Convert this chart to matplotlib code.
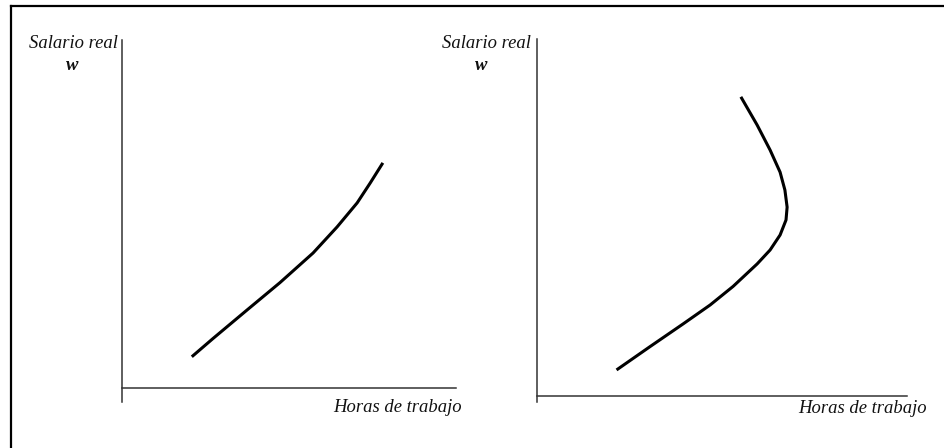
import matplotlib.pyplot as plt
from matplotlib.lines import Line2D

W, H = 945, 448

# labour supply, left panel (horas, salario)
horas_izq = [2.09, 2.72, 3.74, 4.73, 5.72, 6.44, 7.04, 7.43, 7.81]
salario_izq = [0.90, 1.42, 2.24, 3.03, 3.88, 4.63, 5.32, 5.89, 6.47]

# backward-bending labour supply, right panel
horas_der = [2.15, 3.05, 3.95, 4.68, 5.30, 5.95, 6.30, 6.57, 6.73,
             6.76, 6.70, 6.57, 6.30, 5.95, 5.51]
salario_der = [0.73, 1.38, 2.02, 2.55, 3.07, 3.70, 4.09, 4.51, 4.93,
               5.29, 5.77, 6.27, 6.89, 7.59, 8.38]

ylabel = "Salario real"
ylabel2 = "w"
xlabel = "Horas de trabajo"


def px_box(x0, y0, x1, y1):
    # pixel box (top-left origin) -> figure fraction rect
    return [x0 / W, 1 - y1 / H, (x1 - x0) / W, (y1 - y0) / H]


def fx(x):
    return x / W


def fy(y):
    return 1 - y / H


fig = plt.figure(figsize=(W / 100, H / 100), dpi=100)
font = dict(family="Liberation Serif", style="italic", size=13.4, color="#111111")


def panel(rect, xs, ys, ylo):
    ax = fig.add_axes(rect)
    ax.set_xlim(0, 10)
    ax.set_ylim(ylo, 10)
    for s in ["top", "right"]:
        ax.spines[s].set_visible(False)
    ax.spines["bottom"].set_position(("data", 0))
    for s in ["left", "bottom"]:
        ax.spines[s].set_color("#333333")
        ax.spines[s].set_linewidth(1.1)
    ax.set_xticks([])
    ax.set_yticks([])
    ax.patch.set_alpha(0)
    ax.plot(xs, ys, color="black", lw=2.2, solid_capstyle="butt",
            solid_joinstyle="round")
    return ax


# left panel: y axis x=122, top 40, bottom 402; x axis at y=388, to x=456
panel(px_box(122, 40, 456, 402), horas_izq, salario_izq, -0.4)
# right panel: y axis x=537, top 39, bottom 402; x axis at y=396, to x=907
panel(px_box(537, 39, 907, 402), horas_der, salario_der, -0.168)

# labels
fig.text(fx(118), fy(44), ylabel, ha="right", va="center", **font)
fig.text(fx(72), fy(65), ylabel2, ha="center", va="center", weight="bold", **font)
fig.text(fx(462), fy(407), xlabel, ha="right", va="center", **font)

fig.text(fx(531), fy(44), ylabel, ha="right", va="center", **font)
fig.text(fx(481), fy(65), ylabel2, ha="center", va="center", weight="bold", **font)
fig.text(fx(927), fy(408), xlabel, ha="right", va="center", **font)

# outer frame: only top and left edges are visible in the crop
fig.add_artist(Line2D([fx(11), 1.0], [fy(6.5), fy(6.5)], color="black", lw=1.6))
fig.add_artist(Line2D([fx(11), fx(11)], [fy(6.5), 0.0], color="black", lw=1.6))

fig.savefig("out.png", dpi=100)
